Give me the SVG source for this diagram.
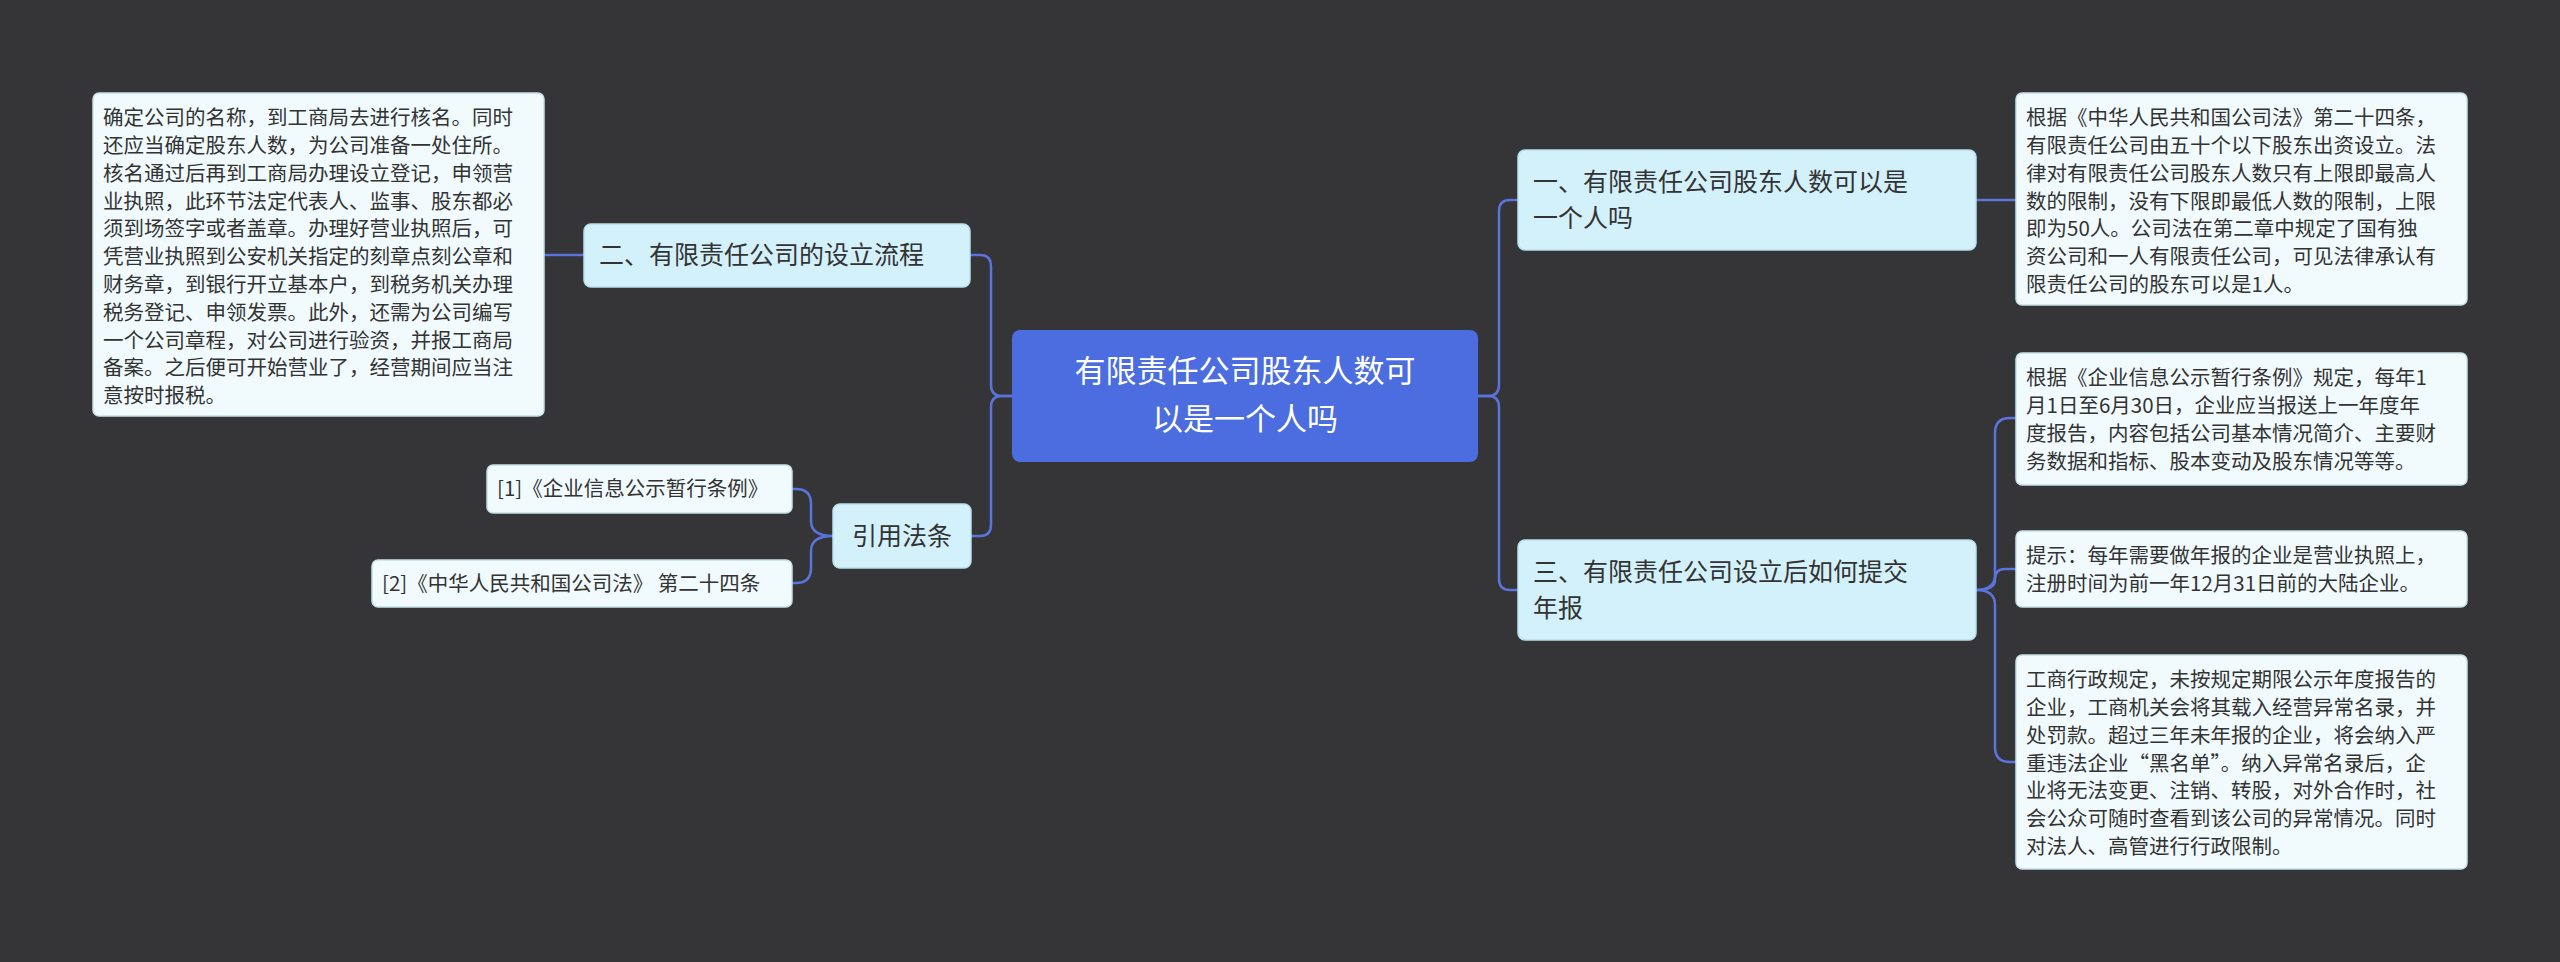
<svg xmlns="http://www.w3.org/2000/svg" width="2560" height="962" viewBox="0 0 2560 962">
<style>
.leaf{fill:#f1fbfe;stroke:#c5dfe8;stroke-width:1.5}
.node{fill:#d3f1fb;stroke:#b8e0ee;stroke-width:1.5}
.lt{font-family:"Noto Sans CJK SC","Noto Sans",sans-serif;font-size:20.5px;fill:#333}
.nt{font-family:"Noto Sans CJK SC","Noto Sans",sans-serif;font-size:25px;fill:#333}
.ct{font-family:"Noto Sans CJK SC","Noto Sans",sans-serif;font-size:31px;fill:#fff}
#edges path{fill:none;stroke:#5a74dc;stroke-width:2.5}
</style>
<rect width="2560" height="962" fill="#353437"/>
<g id="edges">
<path d="M1478 396 H1488 Q1499 396 1499 385 V211 Q1499 200 1510 200 H1518"/>
<path d="M1478 396 H1488 Q1499 396 1499 407 V579 Q1499 590 1510 590 H1518"/>
<path d="M1976 200 H2016"/>
<path d="M1976 590 Q1995 590 1995 575 V433 Q1995 418 2010 418 H2016"/>
<path d="M1976 590 Q1995 590 1995 580 V579 Q1995 569 2005 569 H2016"/>
<path d="M1976 590 Q1995 590 1995 605 V747 Q1995 762 2010 762 H2016"/>
<path d="M1012 396 H1002 Q991 396 991 385 V266 Q991 255 980 255 H970"/>
<path d="M1012 396 H1002 Q991 396 991 407 V525 Q991 536 980 536 H971"/>
<path d="M584 255 H544"/>
<path d="M833 536 Q811 536 811 521 V504 Q811 489 796 489 H792"/>
<path d="M833 536 Q811 536 811 551 V568 Q811 583 796 583 H792"/>
</g>
<g id="center"><rect x="1012" y="330" width="466" height="132" rx="8" fill="#4b6de0"/>
<text class="ct" text-anchor="middle"><tspan x="1245" y="382">有限责任公司股东人数可</tspan><tspan x="1245" y="430">以是一个人吗</tspan></text></g>
<g id="n1"><rect class="node" x="1518" y="150" width="458" height="100" rx="7"/>
<text class="nt"><tspan x="1533" y="191">一、有限责任公司股东人数可以是</tspan><tspan x="1533" y="227">一个人吗</tspan></text></g>
<g id="leaf1"><rect class="leaf" x="2016" y="93" width="451" height="212" rx="6"/>
<text class="lt"><tspan x="2026" y="125">根据《中华人民共和国公司法》第二十四条，</tspan><tspan x="2026" y="153">有限责任公司由五十个以下股东出资设立。法</tspan><tspan x="2026" y="181">律对有限责任公司股东人数只有上限即最高人</tspan><tspan x="2026" y="209">数的限制，没有下限即最低人数的限制，上限</tspan><tspan x="2026" y="236">即为50人。公司法在第二章中规定了国有独</tspan><tspan x="2026" y="264">资公司和一人有限责任公司，可见法律承认有</tspan><tspan x="2026" y="292">限责任公司的股东可以是1人。</tspan></text></g>
<g id="n3"><rect class="node" x="1518" y="540" width="458" height="100" rx="7"/>
<text class="nt"><tspan x="1533" y="581">三、有限责任公司设立后如何提交</tspan><tspan x="1533" y="617">年报</tspan></text></g>
<g id="leaf3a"><rect class="leaf" x="2016" y="353" width="451" height="132" rx="6"/>
<text class="lt"><tspan x="2026" y="385">根据《企业信息公示暂行条例》规定，每年1</tspan><tspan x="2026" y="413">月1日至6月30日，企业应当报送上一年度年</tspan><tspan x="2026" y="441">度报告，内容包括公司基本情况简介、主要财</tspan><tspan x="2026" y="469">务数据和指标、股本变动及股东情况等等。</tspan></text></g>
<g id="leaf3b"><rect class="leaf" x="2016" y="531" width="451" height="76" rx="6"/>
<text class="lt"><tspan x="2026" y="563">提示：每年需要做年报的企业是营业执照上，</tspan><tspan x="2026" y="591">注册时间为前一年12月31日前的大陆企业。</tspan></text></g>
<g id="leaf3c"><rect class="leaf" x="2016" y="655" width="451" height="214" rx="6"/>
<text class="lt"><tspan x="2026" y="687">工商行政规定，未按规定期限公示年度报告的</tspan><tspan x="2026" y="715">企业，工商机关会将其载入经营异常名录，并</tspan><tspan x="2026" y="743">处罚款。超过三年未年报的企业，将会纳入严</tspan><tspan x="2026" y="771">重违法企业“黑名单”。纳入异常名录后，企</tspan><tspan x="2026" y="798">业将无法变更、注销、转股，对外合作时，社</tspan><tspan x="2026" y="826">会公众可随时查看到该公司的异常情况。同时</tspan><tspan x="2026" y="854">对法人、高管进行行政限制。</tspan></text></g>
<g id="n2"><rect class="node" x="584" y="224" width="386" height="63" rx="7"/>
<text class="nt" x="599" y="264">二、有限责任公司的设立流程</text></g>
<g id="leaf2"><rect class="leaf" x="93" y="93" width="451" height="323" rx="6"/>
<text class="lt"><tspan x="103" y="125">确定公司的名称，到工商局去进行核名。同时</tspan><tspan x="103" y="153">还应当确定股东人数，为公司准备一处住所。</tspan><tspan x="103" y="181">核名通过后再到工商局办理设立登记，申领营</tspan><tspan x="103" y="209">业执照，此环节法定代表人、监事、股东都必</tspan><tspan x="103" y="236">须到场签字或者盖章。办理好营业执照后，可</tspan><tspan x="103" y="264">凭营业执照到公安机关指定的刻章点刻公章和</tspan><tspan x="103" y="292">财务章，到银行开立基本户，到税务机关办理</tspan><tspan x="103" y="320">税务登记、申领发票。此外，还需为公司编写</tspan><tspan x="103" y="348">一个公司章程，对公司进行验资，并报工商局</tspan><tspan x="103" y="375">备案。之后便可开始营业了，经营期间应当注</tspan><tspan x="103" y="403">意按时报税。</tspan></text></g>
<g id="n4"><rect class="node" x="833" y="504" width="138" height="64" rx="7"/>
<text class="nt" x="902" y="545" text-anchor="middle">引用法条</text></g>
<g id="ref1"><rect class="leaf" x="487" y="465" width="305" height="48" rx="6"/>
<text class="lt" x="497" y="496">[1]《企业信息公示暂行条例》</text></g>
<g id="ref2"><rect class="leaf" x="372" y="560" width="420" height="47" rx="6"/>
<text class="lt" x="382" y="591">[2]《中华人民共和国公司法》 第二十四条</text></g>
</svg>
